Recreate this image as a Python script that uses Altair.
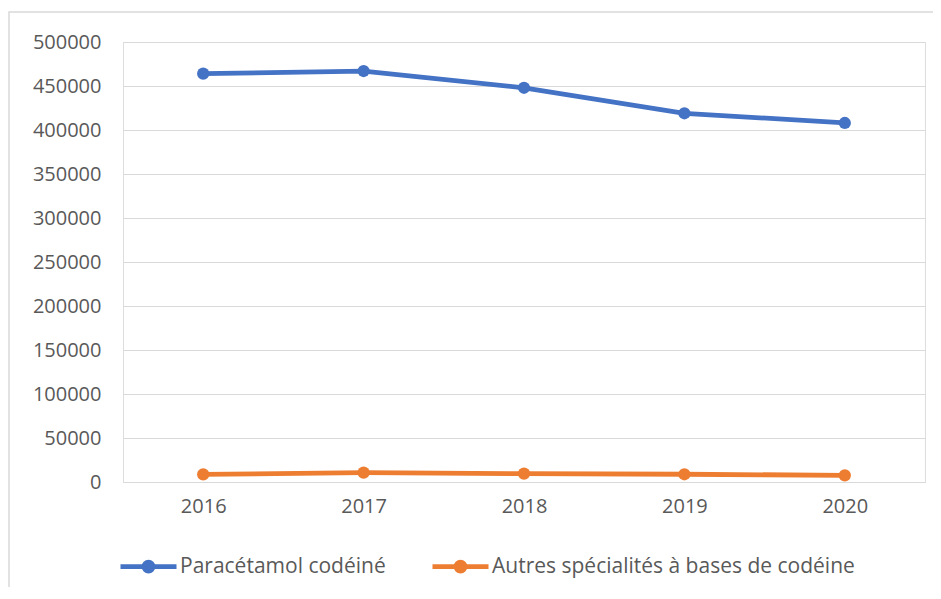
import altair as alt
import pandas as pd

years = ["2016", "2017", "2018", "2019", "2020"]
series_names = ["Paracétamol codéiné", "Autres spécialités à bases de codéine"]
paracetamol = [464000, 467000, 448000, 419000, 408000]
autres = [8700, 10600, 9500, 8800, 7600]
colors = ["#4472C4", "#ED7D31"]
y_ticks = [0, 50000, 100000, 150000, 200000, 250000, 300000, 350000, 400000, 450000, 500000]

rows = []
for name, vals in zip(series_names, [paracetamol, autres]):
    for yr, v in zip(years, vals):
        rows.append({"Année": yr, "Série": name, "Valeur": v})
df = pd.DataFrame(rows)

FONT = "Open Sans"
TXT = "#595959"
GRID = "#D9D9D9"

# legend symbol: a horizontal line with a dot in the middle
a, b = 0.16, 0.06
sym = (f"M-1,0L1,0 "
       f"M{-a},0A{a},{a},0,1,0,{a},0A{a},{a},0,1,0,{-a},0Z "
       f"M{-b},0A{b},{b},0,1,0,{b},0A{b},{b},0,1,0,{-b},0Z")

lines = alt.Chart(df).mark_line(
    strokeWidth=4.8,
    point=alt.OverlayMarkDef(filled=True, size=150, opacity=1),
).encode(
    x=alt.X("Année:O", sort=years, title=None,
            axis=alt.Axis(labelAngle=0, labelFontSize=20, labelFont=FONT, labelColor=TXT,
                          ticks=False, domainColor=GRID, domainWidth=1.2, grid=False,
                          labelPadding=14)),
    y=alt.Y("Valeur:Q", title=None,
            scale=alt.Scale(domain=[0, 500000], nice=False),
            axis=alt.Axis(values=y_ticks, format="d", labelFontSize=20, labelFont=FONT,
                          labelColor=TXT, ticks=False, domain=False, gridColor=GRID,
                          gridWidth=1.2, labelPadding=22)),
    color=alt.Color("Série:N", title=None,
                    scale=alt.Scale(domain=series_names, range=colors),
                    legend=alt.Legend(orient="none", legendX=-5, legendY=494,
                                      direction="horizontal", symbolType=sym,
                                      symbolSize=3136, symbolStrokeWidth=4.8,
                                      labelFontSize=21, labelFont=FONT, labelColor=TXT,
                                      labelOffset=1, labelLimit=0, columnPadding=36,
                                      padding=0, symbolOpacity=1)),
    order=alt.Order("Année:O"),
)

border = alt.Chart(pd.DataFrame({"k": [0]})).mark_rect(
    fill=None, stroke=GRID, strokeWidth=1.5
).encode(x=alt.value(-114), x2=alt.value(1000), y=alt.value(-30), y2=alt.value(800))

chart = alt.layer(border, lines).properties(
    width=802, height=440,
    autosize=alt.AutoSizeParams(type="none"),
    padding={"left": 115, "top": 34, "right": 8, "bottom": 105},
).configure_view(stroke=None).configure(background="white")

chart.save("out.html", embed_options={"renderer": "svg", "actions": False})
